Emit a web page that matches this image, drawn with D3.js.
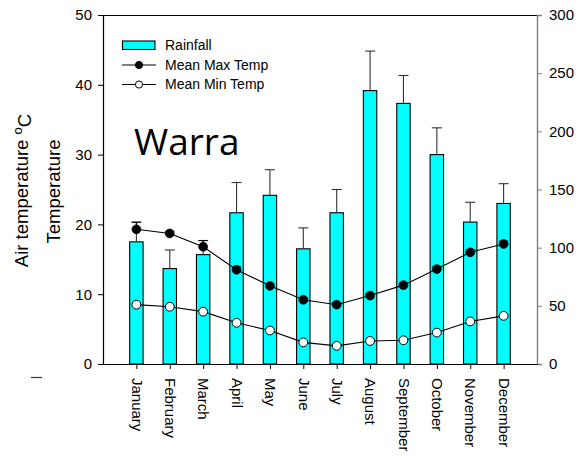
<!DOCTYPE html>
<html>
<head>
<meta charset="utf-8">
<script src="https://cdn.jsdelivr.net/npm/d3@7"></script>
<style>
  html, body { margin: 0; padding: 0; background: #fff; }
  svg { display: block; }
  text { font-family: "Liberation Sans", Arial, sans-serif; fill: #000; }
</style>
</head>
<body>
<svg id="chart" width="584" height="456"></svg>
<script>
// Monthly climate summary for Warra
const months = ["January", "February", "March", "April", "May", "June",
                "July", "August", "September", "October", "November", "December"];
const rainfall    = [105, 82, 94, 130, 145, 99, 130, 235, 224, 180, 122, 138];   // mm
const rainfallErr = [17, 16, 12, 26, 22, 18, 20, 34, 24, 23, 17, 17];
const maxTemp     = [19.3, 18.7, 16.8, 13.5, 11.2, 9.2, 8.5, 9.8, 11.3, 13.6, 16.0, 17.2]; // °C
const maxTempErr  = [1.0, 0.3, 0.9, 0.4, 0.3, 0.3, 0.3, 0.3, 0.3, 0.4, 0.4, 0.4];
const minTemp     = [8.5, 8.2, 7.5, 5.9, 4.8, 3.1, 2.6, 3.3, 3.4, 4.5, 6.1, 6.9];  // °C
const tempTicks   = [0, 10, 20, 30, 40, 50];
const rainTicks   = [0, 50, 100, 150, 200, 250, 300];

const plotLeft = 103, plotRight = 537, plotTop = 15, plotBottom = 364;
const svg = d3.select("#chart");

const x = d3.scalePoint().domain(months).range([plotLeft, plotRight]).padding(1);
const yT = d3.scaleLinear().domain([0, 50]).range([plotBottom, plotTop]);
const yR = d3.scaleLinear().domain([0, 300]).range([plotBottom, plotTop]);

const barW = 13.4;
const capW = 10;

// Rainfall bars
svg.append("g").selectAll("rect").data(months).join("rect")
  .attr("x", d => x(d) - barW / 2)
  .attr("y", (d, i) => yR(rainfall[i]))
  .attr("width", barW)
  .attr("height", (d, i) => yR(0) - yR(rainfall[i]))
  .attr("fill", "#00ffff")
  .attr("stroke", "#000")
  .attr("stroke-width", 1.1);

// Rainfall error bars (upper)
const rErr = svg.append("g").attr("stroke", "#333").attr("stroke-width", 1.1);
months.forEach((m, i) => {
  const cx = x(m), y0 = yR(rainfall[i]), y1 = yR(rainfall[i] + rainfallErr[i]);
  rErr.append("line").attr("x1", cx).attr("x2", cx).attr("y1", y0).attr("y2", y1);
  rErr.append("line").attr("x1", cx - capW / 2).attr("x2", cx + capW / 2).attr("y1", y1).attr("y2", y1);
});

// Frame: top line and left axis in black, right axis in grey
svg.append("line").attr("x1", plotLeft).attr("x2", plotRight).attr("y1", plotTop + 0.5).attr("y2", plotTop + 0.5)
  .attr("stroke", "#000").attr("stroke-width", 1.2);

const axL = svg.append("g").attr("transform", `translate(${plotLeft},0)`)
  .call(d3.axisLeft(yT).tickValues(tempTicks).tickSize(5).tickPadding(6));
axL.select(".domain").attr("stroke", "#000").attr("stroke-width", 1.2);
axL.selectAll(".tick line").attr("stroke", "#000");
axL.selectAll("text").style("font-size", "15px").style("font-family", "Liberation Sans, Arial, sans-serif");

const axR = svg.append("g").attr("transform", `translate(${plotRight},0)`)
  .call(d3.axisRight(yR).tickValues(rainTicks).tickSize(5).tickPadding(7));
axR.select(".domain").attr("stroke", "#808080").attr("stroke-width", 1.4);
axR.selectAll(".tick line").attr("stroke", "#808080");
axR.selectAll("text").style("font-size", "15px").style("font-family", "Liberation Sans, Arial, sans-serif");

const axB = svg.append("g").attr("transform", `translate(0,${plotBottom})`)
  .call(d3.axisBottom(x).tickSize(5).tickSizeOuter(0));
axB.select(".domain").attr("stroke", "#000").attr("stroke-width", 1.2);
axB.selectAll(".tick line").attr("stroke", "#000");
axB.selectAll("text")
  .style("font-size", "15px").style("font-family", "Liberation Sans, Arial, sans-serif")
  .attr("text-anchor", "start")
  .attr("dy", "0.35em")
  .attr("transform", "translate(0,14) rotate(90)")
  .attr("x", 0).attr("y", 0);

// Temperature lines
const tempLine = d3.line().x((d, i) => x(months[i])).y(d => yT(d));
svg.append("path").datum(maxTemp).attr("d", tempLine)
  .attr("fill", "none").attr("stroke", "#000").attr("stroke-width", 1.1);
svg.append("path").datum(minTemp).attr("d", tempLine)
  .attr("fill", "none").attr("stroke", "#000").attr("stroke-width", 1.1);

// Max temperature error bars (upper)
const tErr = svg.append("g").attr("stroke", "#000").attr("stroke-width", 1);
months.forEach((m, i) => {
  const cx = x(m), y0 = yT(maxTemp[i]), y1 = yT(maxTemp[i] + maxTempErr[i]);
  tErr.append("line").attr("x1", cx).attr("x2", cx).attr("y1", y0).attr("y2", y1);
  tErr.append("line").attr("x1", cx - 4.5).attr("x2", cx + 4.5).attr("y1", y1).attr("y2", y1);
});

// Markers
svg.append("g").selectAll("circle").data(maxTemp).join("circle")
  .attr("cx", (d, i) => x(months[i])).attr("cy", d => yT(d)).attr("r", 4.4)
  .attr("fill", "#000").attr("stroke", "#000").attr("stroke-width", 0.8);
svg.append("g").selectAll("circle").data(minTemp).join("circle")
  .attr("cx", (d, i) => x(months[i])).attr("cy", d => yT(d)).attr("r", 4.4)
  .attr("fill", "#fff").attr("stroke", "#000").attr("stroke-width", 1);

// Legend
const lg = svg.append("g");
lg.append("rect").attr("x", 122.5).attr("y", 41).attr("width", 32.5).attr("height", 8.5)
  .attr("fill", "#00ffff").attr("stroke", "#000").attr("stroke-width", 1.1);
lg.append("text").attr("x", 165).attr("y", 45.5).attr("dy", "0.35em")
  .style("font-size", "14px").text("Rainfall");
[[65, "#000", "Mean Max Temp"], [84.5, "#fff", "Mean Min Temp"]].forEach(([ly, fill, label]) => {
  lg.append("line").attr("x1", 122).attr("x2", 156).attr("y1", ly).attr("y2", ly)
    .attr("stroke", "#000").attr("stroke-width", 1);
  lg.append("circle").attr("cx", 139).attr("cy", ly).attr("r", 3.6)
    .attr("fill", fill).attr("stroke", "#000").attr("stroke-width", 1);
  lg.append("text").attr("x", 165).attr("y", ly).attr("dy", "0.35em")
    .style("font-size", "14px").text(label);
});

// Site name
svg.append("text").attr("x", 134).attr("y", 155)
  .style("font-family", "'Open Sans', sans-serif").style("font-size", "37px")
  .text("Warra");

// Y axis titles
const midY = (plotTop + plotBottom) / 2;
const t1 = svg.append("text")
  .attr("transform", `translate(28,${midY + 1}) rotate(-90)`)
  .attr("text-anchor", "middle")
  .style("font-size", "18.5px");
t1.append("tspan").text("Air temperature ");
t1.append("tspan").attr("dy", "-0.5em").style("font-size", "13px").text("o");
t1.append("tspan").attr("dy", "0.5em").text("C");

svg.append("text")
  .attr("transform", `translate(60,${midY + 2}) rotate(-90)`)
  .attr("text-anchor", "middle")
  .style("font-size", "18.5px")
  .text("Temperature");

// Small dash below the axis titles
svg.append("line").attr("x1", 31).attr("x2", 42).attr("y1", 377.5).attr("y2", 377.5)
  .attr("stroke", "#1f3a5f").attr("stroke-width", 1.2);
</script>
</body>
</html>
